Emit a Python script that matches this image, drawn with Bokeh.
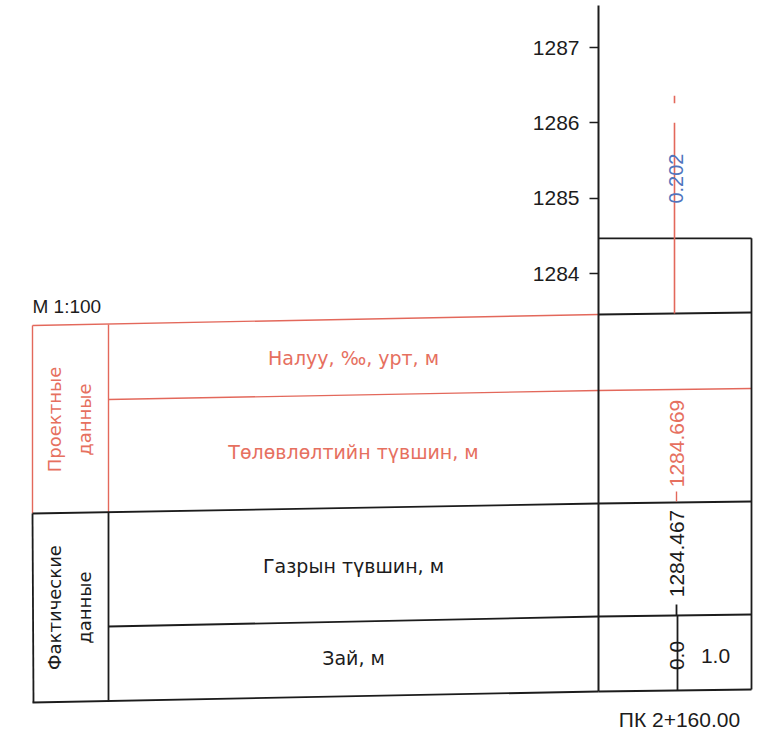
import math
from bokeh.plotting import figure
from bokeh.models import Range1d, LinearAxis, FixedTicker, ColumnDataSource
from bokeh.core.properties import value
from bokeh.embed import file_html
from bokeh.resources import INLINE

# ---------------- data ----------------
elev_ticks = [1284, 1285, 1286, 1287]
ground_level = 1284.467
design_level = 1284.669
distances = [0.0, 1.0]
station_label = "ПК 2+160.00"
scale_label = "М 1:100"
design_rows = ["Налуу, ‰, урт, м", "Төлөвлөлтийн түвшин, м"]
actual_rows = ["Газрын түвшин, м", "Зай, м"]
group_labels = ["Проектные\nданные", "Фактические\nданные"]
mark_top = 1286.0
mark_tick = [1286.26, 1286.36]

# ---------------- styles ----------------
RED = "#e3685b"
RED_TXT = "#e6705f"
BLK = "#1c1c1c"
BLUE = "#4f74bd"
FONT = "DejaVu Sans"
NUMFONT = "Liberation Sans"

W, H = 756, 734
p = figure(width=W, height=H, x_range=Range1d(0, W), y_range=Range1d(H, 0),
           output_backend="svg", toolbar_location=None,
           x_axis_location=None, y_axis_location=None, min_border=0)
p.xgrid.visible = False
p.ygrid.visible = False
p.outline_line_color = None
p.background_fill_color = "white"


def elev_of(py):
    return 1284 - (py - 273) / 75.33


p.extra_y_ranges = {"elev": Range1d(elev_of(H), elev_of(0))}

AX_X = 598
ax = LinearAxis(y_range_name="elev", ticker=FixedTicker(ticks=elev_ticks),
                fixed_location=AX_X, bounds=(elev_of(691), elev_of(5)))
ax.axis_line_color = BLK
ax.axis_line_width = 2
ax.major_tick_out = 9
ax.major_tick_in = 0
ax.major_tick_line_width = 1.5
ax.major_tick_line_color = BLK
ax.minor_tick_line_color = None
ax.major_label_standoff = 10
ax.major_label_text_font = NUMFONT
ax.major_label_text_font_size = "21px"
ax.major_label_text_color = BLK
p.add_layout(ax, "left")

# ---------------- table lines (pixel coordinates of the sheet) ----------------
red_seg = dict(
    x0=[32, 108, 598, 32, 108],
    y0=[325, 399, 390, 325, 324],
    x1=[598, 598, 751, 32, 108],
    y1=[314, 390, 388, 513, 512],
)
p.segment(source=ColumnDataSource(red_seg), x0="x0", y0="y0", x1="x1", y1="y1",
          line_color=RED, line_width=1.4)

blk_seg = dict(
    x0=[598, 32, 598, 108, 598, 32, 598, 32, 108],
    y0=[314, 513, 503, 626, 616, 702, 691, 513, 512],
    x1=[751, 598, 751, 598, 751, 598, 751, 33, 108],
    y1=[312, 503, 501, 616, 614, 691, 689, 702, 700],
)
p.segment(source=ColumnDataSource(blk_seg), x0="x0", y0="y0", x1="x1", y1="y1",
          line_color=BLK, line_width=1.8)

# box above the table: top at ground level
table_top_elev = elev_of(313)
p.segment(x0=[598, 751], y0=[ground_level, ground_level], x1=[751, 751],
          y1=[ground_level, elev_of(689)], y_range_name="elev",
          line_color=BLK, line_width=1.8)

# red elevation mark
MX = 674
p.segment(x0=[MX, MX], y0=[table_top_elev, mark_tick[0]], x1=[MX, MX],
          y1=[mark_top, mark_tick[1]], y_range_name="elev",
          line_color=RED, line_width=1.6)

diff = design_level - ground_level
p.text(x=[MX + 1], y=[1285.26], text=[f"{diff:.3f}"], angle=math.pi / 2,
       y_range_name="elev", text_align="center", text_baseline="middle",
       text_font=value(NUMFONT), text_font_size=value("20px"), text_color=BLUE)

# small leader ticks below the values
p.segment(x0=[676], y0=[491], x1=[676], y1=[501], line_color=RED, line_width=1.4)
p.segment(x0=[676, 677], y0=[604, 615], x1=[676, 677], y1=[615, 690],
          line_color=BLK, line_width=1.8)

# ---------------- texts ----------------
p.text(x=[32], y=[306], text=[scale_label], text_align="left", text_baseline="middle",
       text_font=value(NUMFONT), text_font_size=value("19px"), text_color=BLK)

p.text(x=[353, 353], y=[357, 451], text=design_rows, text_align="center",
       text_baseline="middle", text_font=value(FONT), text_font_size=value("19px"),
       text_color=RED_TXT)
p.text(x=[353, 353], y=[565, 657], text=actual_rows, text_align="center",
       text_baseline="middle", text_font=value(FONT), text_font_size=value("19px"),
       text_color=BLK)

p.text(x=[69], y=[419], text=[group_labels[0]], angle=math.pi / 2, text_align="center",
       text_baseline="middle", text_font=value(FONT), text_font_size=value("18px"),
       text_line_height=1.4, text_color=RED_TXT)
p.text(x=[69], y=[607], text=[group_labels[1]], angle=math.pi / 2, text_align="center",
       text_baseline="middle", text_font=value(FONT), text_font_size=value("18px"),
       text_line_height=1.4, text_color=BLK)

p.text(x=[676], y=[443], text=[f"{design_level:.3f}"], angle=math.pi / 2,
       text_align="center", text_baseline="middle", text_font=value(NUMFONT),
       text_font_size=value("21px"), text_color=RED_TXT)
p.text(x=[676], y=[553], text=[f"{ground_level:.3f}"], angle=math.pi / 2,
       text_align="center", text_baseline="middle", text_font=value(NUMFONT),
       text_font_size=value("21px"), text_color=BLK)
p.text(x=[676], y=[655], text=[f"{distances[0]:.1f}"], angle=math.pi / 2,
       text_align="center", text_baseline="middle", text_font=value(NUMFONT),
       text_font_size=value("21px"), text_color=BLK)
p.text(x=[715], y=[655], text=[f"{distances[1]:.1f}"], text_align="center",
       text_baseline="middle", text_font=value(NUMFONT),
       text_font_size=value("21px"), text_color=BLK)
p.text(x=[679], y=[719], text=[station_label], text_align="center",
       text_baseline="middle", text_font=value(NUMFONT),
       text_font_size=value("21px"), text_color=BLK)

open("out.html", "w").write(file_html(p, INLINE))
